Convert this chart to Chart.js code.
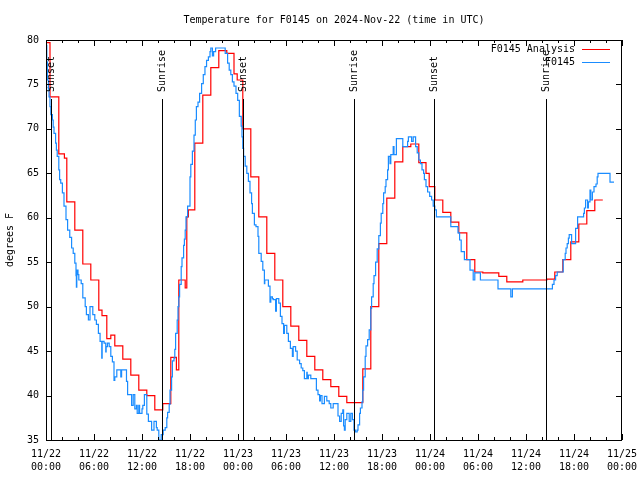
<!DOCTYPE html>
<html>
<head>
<meta charset="utf-8">
<script src="https://cdn.jsdelivr.net/npm/chart.js@4.4.1/dist/chart.umd.min.js"></script>
<style>
  html, body { margin: 0; padding: 0; background: #fff; }
  canvas { display: block; }
</style>
</head>
<body>
<canvas id="chart" width="640" height="480"></canvas>
<script>
// hours since 11/22 00:00 UTC
const analysisHours = [0, 0.5, 1.6, 2.3, 2.6, 3.6, 4.6, 5.6, 6.6, 7.0, 7.6, 8.1, 8.6, 9.6, 10.6, 11.6, 12.6, 13.6, 14.6, 15.6, 16.3, 16.6, 17.4, 17.6, 17.8,
  18.6, 19.6, 20.6, 21.6, 22.6, 23.5, 23.9, 24.6, 25.6, 26.6, 27.6, 28.6, 29.6, 30.6, 31.6, 32.6, 33.6, 34.6, 35.6, 36.6, 37.6,
  39.6, 40.6, 41.6, 42.6, 43.6, 44.6, 45.6, 46.6, 47.5, 47.9, 48.6, 49.6, 50.6, 51.6, 52.6, 53.6, 54.6, 56.6, 57.6, 59.6,
  62.6, 63.6, 64.6, 65.6, 66.6, 67.6, 68.6, 69.6];
const analysisTemps = [79.7, 73.6, 67.2, 66.7, 61.8, 58.6, 54.8, 53.0, 49.6, 49.0, 46.4, 46.8, 45.6, 44.1, 42.3, 40.6, 40.0, 38.4, 39.1, 44.3, 42.9, 53.0, 52.1, 60.1, 60.9,
  68.4, 73.8, 76.9, 78.8, 78.5, 76.2, 75.5, 70.0, 64.6, 60.1, 56.0, 53.0, 50.0, 47.8, 46.2, 44.4, 42.9, 41.8, 41.0, 39.9, 39.2,
  43.0, 50.0, 57.1, 62.2, 66.3, 68.0, 68.3, 66.2, 65.0, 63.5, 62.0, 60.6, 59.5, 58.3, 55.3, 53.9, 53.8, 53.4, 52.8, 53.0,
  53.1, 53.9, 55.3, 57.3, 59.3, 60.8, 62.0, 62.0];

const obsHours = [0.0, 0.1, 0.17, 0.3, 0.38, 0.5, 0.6, 0.8, 0.9, 1.0, 1.2, 1.3, 1.4, 1.6, 1.7, 1.84, 2.05, 2.25, 2.5, 2.7, 2.97,
  3.2, 3.4, 3.6, 3.75, 3.8, 3.85, 4.0, 4.1, 4.4, 4.6, 4.9, 5.05, 5.3, 5.5, 5.8, 5.85, 6.1, 6.3, 6.55, 6.76, 6.97, 7.02,
  7.26, 7.47, 7.52, 7.68, 7.9, 8.1, 8.3, 8.5, 8.6, 8.85, 9.35, 9.45, 10.06, 10.2, 10.7, 10.9, 11.1, 11.3, 11.4, 11.6, 11.7,
  12.0, 12.1, 12.3, 12.6, 12.8, 13.2, 13.5, 13.8, 13.9, 14.1, 14.4, 14.65, 14.9, 15.1, 15.2, 15.4, 15.5, 15.7, 15.8, 16.0,
  16.1, 16.2, 16.4, 16.5, 16.6, 16.7, 16.9, 17.0, 17.2, 17.3, 17.4, 17.5, 17.7, 18.0, 18.1, 18.3, 18.5, 18.66, 18.8, 19.0,
  19.2, 19.45, 19.66, 19.87, 20.07, 20.3, 20.5, 20.6, 20.8, 20.95, 21.2, 22.4, 22.7, 22.9, 23.1, 23.3, 23.5, 23.75, 23.96,
  24.17, 24.4, 24.5, 24.6, 24.7, 24.9, 25.1, 25.3, 25.5, 25.7, 25.8, 26.05, 26.25, 26.5, 26.6, 26.9, 27.1, 27.3, 27.35,
  27.8, 28.0, 28.1, 28.3, 28.4, 28.7, 28.8, 29.1, 29.3, 29.5, 29.7, 29.8, 30.1, 30.3, 30.55, 30.8, 30.9, 31.2, 31.4, 31.7,
  31.9, 32.1, 32.3, 32.6, 32.65, 32.8, 33.1, 33.8, 34.0, 34.2, 34.3, 34.5, 34.8, 35.1, 35.4, 35.6, 35.9, 36.5, 36.7, 36.9,
  37.1, 37.2, 37.3, 37.4, 37.6, 37.9, 38.1, 38.3, 38.5, 38.7, 38.9, 39.0, 39.2, 39.3, 39.5, 39.6, 39.7, 39.9, 40.0, 40.2,
  40.4, 40.6, 40.7, 40.9, 41.0, 41.2, 41.4, 41.6, 41.8, 41.9, 42.1, 42.2, 42.4, 42.5, 42.7, 42.8, 43.0, 43.1, 43.4, 43.5,
  43.8, 44.6, 45.2, 45.3, 45.7, 45.9, 46.2, 46.4, 46.6, 46.8, 47.0, 47.2, 47.3, 47.5, 47.7, 47.96, 48.2, 48.4, 48.6, 48.8,
  50.6, 51.5, 51.7, 51.9, 52.3, 53.0, 53.4, 53.6, 54.3, 56.5, 58.1, 58.3, 63.3, 63.5, 63.7, 63.9, 64.65, 64.9, 65.0, 65.15,
  65.3, 65.4, 65.7, 66.2, 66.45, 67.2, 67.3, 67.45, 67.7, 67.8, 68.0, 68.1, 68.3, 68.5, 68.75, 68.9, 69.0, 70.5, 71.0];
const obsTemps = [79.4, 77.5, 75.5, 74.5, 73.6, 72.5, 71.6, 71.0, 70.2, 69.5, 68.4, 67.6, 66.9, 65.4, 64.3, 63.9, 62.8, 61.3, 59.8, 58.6, 57.8,
  56.6, 56.0, 54.9, 53.5, 52.2, 54.1, 53.6, 53.0, 52.6, 51.0, 50.0, 49.1, 48.5, 50.0, 50.0, 49.1, 48.5, 48.0, 47.0, 46.1, 44.2, 46.1,
  45.9, 44.9, 45.5, 45.9, 45.5, 44.4, 43.8, 41.7, 42.1, 42.9, 42.1, 42.9, 41.6, 40.1, 38.9, 40.1, 38.5, 38.9, 38.0, 38.9, 38.0,
  38.5, 38.9, 40.1, 37.9, 37.1, 36.1, 37.1, 36.4, 36.1, 35.0, 35.6, 36.1, 36.4, 37.5, 38.1, 39.0, 40.6, 42.1, 43.9, 44.2,
  45.2, 47.0, 48.5, 50.0, 51.1, 52.5, 54.5, 55.5, 56.9, 57.6, 58.6, 60.1, 61.3, 64.6, 66.0, 67.5, 69.3, 71.0, 72.5, 73.0,
  74.0, 75.1, 76.1, 77.0, 77.7, 78.1, 78.7, 79.1, 78.2, 78.7, 79.1, 78.5, 77.4, 76.6, 76.1, 75.3, 74.8, 74.0, 73.2,
  71.4, 70.3, 69.1, 67.8, 66.9, 65.8, 65.0, 64.1, 62.8, 61.6, 60.5, 59.2, 59.0, 57.9, 56.0, 55.1, 54.1, 52.6, 53.0,
  52.3, 50.5, 51.1, 50.9, 50.8, 49.5, 50.9, 50.4, 48.9, 48.1, 47.0, 47.9, 47.0, 46.1, 45.3, 44.4, 45.5, 45.0, 44.0, 43.6,
  43.1, 42.8, 41.9, 42.6, 41.9, 42.3, 41.9, 40.6, 40.1, 39.4, 40.0, 39.1, 39.9, 39.4, 39.1, 38.6, 39.1, 37.7, 37.1, 38.0,
  38.4, 36.6, 36.1, 37.3, 38.0, 37.1, 38.0, 37.3, 36.1, 35.9, 36.1, 36.7, 38.0, 38.6, 39.3, 40.6, 42.1, 44.4, 45.6, 46.3,
  47.4, 49.8, 51.1, 52.6, 53.5, 55.0, 56.5, 58.0, 59.4, 60.5, 61.6, 62.8, 63.5, 64.3, 65.4, 66.9, 66.1, 67.1, 68.0, 67.1,
  68.9, 68.0, 68.6, 69.1, 68.6, 69.1, 68.0, 67.3, 66.5, 66.1, 65.4, 65.0, 64.3, 63.5, 62.9, 62.4, 62.0, 61.3, 60.9, 60.1,
  59.0, 58.3, 57.5, 56.2, 55.3, 54.1, 53.0, 53.8, 53.0, 52.0, 51.1, 52.0, 52.5, 53.0, 53.5, 53.9, 55.3, 56.0, 56.6, 57.1,
  57.7, 58.1, 57.1, 58.8, 60.1, 60.5, 61.1, 62.0, 61.1, 61.8, 63.1, 62.0, 62.9, 63.5, 63.8, 64.6, 65.0, 64.0, 64.0];

const sunHours = [0.6, 14.45, 24.6, 38.5, 48.5, 62.5];
const sunLabels = ['Sunset', 'Sunrise', 'Sunset', 'Sunrise', 'Sunset', 'Sunrise'];
const dayLabels = ['11/22', '11/23', '11/24', '11/25'];

const FONT = 'DejaVu Sans Mono';
const font = { family: FONT, size: 10, weight: 'normal', lineHeight: 1.3 };

function toPoints(hours, temps) {
  return hours.map((h, i) => ({ x: h, y: temps[i] }));
}

// gnuplot-ish frame: inward ticks, sunrise/sunset markers, legend
const framePlugin = {
  id: 'frame',
  afterDatasetsDraw(chart) {
    const { ctx, chartArea: a, scales: { x, y } } = chart;
    ctx.save();
    ctx.strokeStyle = '#000';
    ctx.fillStyle = '#000';
    ctx.lineWidth = 1;
    ctx.font = '10px "' + FONT + '"';

    const line = (x1, y1, x2, y2) => {
      ctx.beginPath();
      ctx.moveTo(x1, y1);
      ctx.lineTo(x2, y2);
      ctx.stroke();
    };

    sunHours.forEach((h, i) => {
      const px = Math.round(x.getPixelForValue(h)) + 0.5;
      line(px, a.top + 59, px, a.bottom);
      ctx.save();
      ctx.translate(px, a.top + 52);
      ctx.rotate(-Math.PI / 2);
      ctx.textAlign = 'left';
      ctx.textBaseline = 'middle';
      ctx.fillText(sunLabels[i], 0, 0);
      ctx.restore();
    });

    ctx.strokeRect(a.left + 0.5, a.top + 0.5, a.right - a.left - 1, a.bottom - a.top);

    x.ticks.forEach(t => {
      const px = Math.round(x.getPixelForValue(t.value)) + 0.5;
      const len = t.value % 6 === 0 ? 6 : 3;
      line(px, a.bottom, px, a.bottom - len);
      line(px, a.top, px, a.top + len);
    });
    y.ticks.forEach(t => {
      const py = Math.round(y.getPixelForValue(t.value)) + 0.5;
      line(a.left, py, a.left + 6, py);
      line(a.right, py, a.right - 6, py);
    });

    // legend, top right
    ctx.textAlign = 'right';
    ctx.textBaseline = 'middle';
    chart.data.datasets.forEach((ds, i) => {
      const ly = a.top + 9.5 + i * 13;
      ctx.fillStyle = '#000';
      ctx.fillText(ds.label, a.right - 47, ly);
      ctx.strokeStyle = ds.borderColor;
      line(a.right - 40, ly, a.right - 12, ly);
    });
    ctx.restore();
  }
};

new Chart(document.querySelector('#chart'), {
  type: 'line',
  data: {
    datasets: [{
      label: 'F0145 Analysis',
      data: toPoints(analysisHours, analysisTemps),
      borderColor: '#ff0000',
      borderWidth: 1.2,
      stepped: true,
      pointRadius: 0,
      order: 1
    }, {
      label: 'F0145',
      data: toPoints(obsHours, obsTemps),
      borderColor: '#1a8cff',
      borderWidth: 1.2,
      stepped: true,
      pointRadius: 0,
      order: 0
    }]
  },
  options: {
    responsive: false,
    animation: false,
    devicePixelRatio: 1,
    layout: { padding: { left: 0, right: 18, top: 0, bottom: 0 } },
    plugins: {
      legend: { display: false },
      tooltip: { enabled: false },
      title: {
        display: true,
        fullSize: false,
        text: 'Temperature for F0145 on 2024-Nov-22 (time in UTC)',
        color: '#000',
        font: { family: FONT, size: 10, weight: 'normal', lineHeight: 1.2 },
        padding: { top: 14, bottom: 14 }
      }
    },
    scales: {
      x: {
        type: 'linear',
        min: 0,
        max: 72,
        grid: { display: false, drawTicks: false },
        border: { display: false },
        afterFit: s => {
          s.height = 40;
          s.paddingLeft = 0;
          s.paddingRight = 0;
        },
        ticks: {
          stepSize: 2,
          autoSkip: false,
          maxRotation: 0,
          minRotation: 0,
          padding: 8,
          color: '#000',
          font: font,
          callback: v => v % 6 === 0
            ? [dayLabels[Math.floor(v / 24)], String(v % 24).padStart(2, '0') + ':00']
            : ''
        }
      },
      y: {
        min: 35,
        max: 80,
        grid: { display: false, drawTicks: false },
        border: { display: false },
        afterFit: s => {
          s.width = 46;
          s.paddingTop = 0;
          s.paddingBottom = 0;
        },
        title: {
          display: true,
          text: 'degrees F',
          color: '#000',
          font: { family: FONT, size: 10, weight: 'normal', lineHeight: 1.2 },
          padding: { top: 4, bottom: 0 }
        },
        ticks: {
          stepSize: 5,
          padding: 7,
          color: '#000',
          font: font
        }
      }
    }
  },
  plugins: [framePlugin]
});
</script>
</body>
</html>
